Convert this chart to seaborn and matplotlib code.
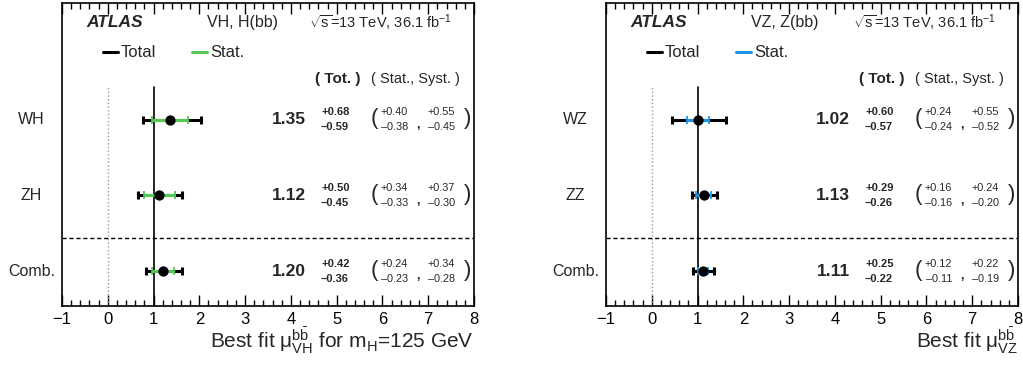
import numpy as np
import pandas as pd
import matplotlib
matplotlib.use("Agg")
import matplotlib.pyplot as plt
import seaborn as sns
from matplotlib.lines import Line2D
from matplotlib.ticker import MultipleLocator
import matplotlib.transforms as mtransforms

sns.set_style("ticks")
plt.rcParams['font.family'] = ['Liberation Sans', 'DejaVu Sans']
plt.rcParams['mathtext.fontset'] = 'custom'
plt.rcParams['mathtext.rm'] = 'Liberation Sans'
plt.rcParams['mathtext.it'] = 'Liberation Sans:italic'
plt.rcParams['mathtext.bf'] = 'Liberation Sans:bold'
plt.rcParams['mathtext.default'] = 'regular'

# VH, H(bb) results
vh_labels = ['WH', 'ZH', 'Comb.']
vh_mu = [1.35, 1.12, 1.20]
vh_tot_up = [0.68, 0.50, 0.42]
vh_tot_dn = [0.59, 0.45, 0.36]
vh_stat_up = [0.40, 0.34, 0.24]
vh_stat_dn = [0.38, 0.33, 0.23]
vh_syst_up = [0.55, 0.37, 0.34]
vh_syst_dn = [0.45, 0.30, 0.28]

# VZ, Z(bb) results
vz_labels = ['WZ', 'ZZ', 'Comb.']
vz_mu = [1.02, 1.13, 1.11]
vz_tot_up = [0.60, 0.29, 0.25]
vz_tot_dn = [0.57, 0.26, 0.22]
vz_stat_up = [0.24, 0.16, 0.12]
vz_stat_dn = [0.24, 0.16, 0.11]
vz_syst_up = [0.55, 0.24, 0.22]
vz_syst_dn = [0.52, 0.20, 0.19]

row_pos = [2.5, 1.5, 0.5]


def fmt(v, sign):
    return sign + f"{v:.2f}"


def draw_panel(ax, labels, mu, tot_up, tot_dn, stat_up, stat_dn, syst_up, syst_dn,
               color, process, xlabel):
    df = pd.DataFrame({'label': labels, 'mu': mu, 'y': row_pos,
                       'tot_up': tot_up, 'tot_dn': tot_dn,
                       'stat_up': stat_up, 'stat_dn': stat_dn})

    ax.set_xlim(-1, 8)
    ax.set_ylim(0.04, 4.04)

    # reference lines
    ax.axvline(1, ymin=0, ymax=(2.93 - 0.04) / 4, color='black', lw=1.2, zorder=1)
    ax.axvline(0, ymin=0, ymax=(2.93 - 0.04) / 4, color='0.6', lw=1.0, ls=':', zorder=1)
    ax.axhline(0.94, color='black', lw=1.0, ls=(0, (3, 2)), zorder=1)

    # total and stat error bars
    ax.errorbar(df['mu'], df['y'], xerr=[df['tot_dn'], df['tot_up']], fmt='none',
                ecolor='black', elinewidth=2.2, capsize=3.2, capthick=2.2, zorder=2)
    ax.errorbar(df['mu'], df['y'], xerr=[df['stat_dn'], df['stat_up']], fmt='none',
                ecolor=color, elinewidth=2.2, capsize=3.2, capthick=1.3, zorder=3)
    sns.scatterplot(data=df, x='mu', y='y', ax=ax, color='black', s=55,
                    edgecolor='black', linewidth=0, zorder=4, legend=False)

    trans = mtransforms.blended_transform_factory(ax.transAxes, ax.transData)
    for i, y in enumerate(row_pos):
        ax.text(-0.074, y, labels[i], transform=trans, ha='center', va='center', fontsize=11.5)
        ax.text(4.32, y, f"{mu[i]:.2f}", ha='right', va='center', fontsize=12.5, fontweight='bold')
        ax.text(4.66, y + 0.1, fmt(tot_up[i], '+'), ha='left', va='center', fontsize=8, fontweight='bold')
        ax.text(4.66, y - 0.1, fmt(tot_dn[i], '\u2013'), ha='left', va='center', fontsize=8, fontweight='bold')
        ax.text(5.75, y + 0.01, '(', ha='left', va='center', fontsize=16)
        ax.text(6.56, y + 0.1, fmt(stat_up[i], '+'), ha='right', va='center', fontsize=7.8)
        ax.text(6.56, y - 0.1, fmt(stat_dn[i], '\u2013'), ha='right', va='center', fontsize=7.8)
        ax.text(6.78, y - 0.07, ',', ha='center', va='center', fontsize=9, fontweight='bold')
        ax.text(7.59, y + 0.1, fmt(syst_up[i], '+'), ha='right', va='center', fontsize=7.8)
        ax.text(7.59, y - 0.1, fmt(syst_dn[i], '\u2013'), ha='right', va='center', fontsize=7.8)
        ax.text(7.78, y + 0.01, ')', ha='left', va='center', fontsize=16)

    ax.text(5.02, 3.04, '( Tot. )', ha='center', va='center', fontsize=11, fontweight='bold')
    ax.text(6.73, 3.04, '( Stat., Syst. )', ha='center', va='center', fontsize=10.5)

    ax.text(0.058, 0.934, 'ATLAS', transform=ax.transAxes, ha='left', va='center',
            fontsize=12.5, fontweight='bold', fontstyle='italic')
    ax.text(0.352, 0.934, process, transform=ax.transAxes, ha='left', va='center', fontsize=11.5)
    ax.text(0.600, 0.934, r'$\sqrt{s}$=13 TeV, 36.1 fb$^{-1}$', transform=ax.transAxes,
            ha='left', va='center', fontsize=10.5)

    handles = [Line2D([], [], color='black', lw=2.2), Line2D([], [], color=color, lw=2.2)]
    ax.legend(handles, ['Total', 'Stat.'], ncol=2, frameon=False, loc='center left',
              bbox_to_anchor=(0.099, 0.835), borderpad=0, borderaxespad=0,
              handlelength=0.9, handletextpad=0.15, columnspacing=2.2, fontsize=12)

    ax.text(1.0, -0.139, xlabel, transform=ax.transAxes, ha='right', va='baseline', fontsize=15)

    ax.set_yticks([])
    ax.set_xlabel('')
    ax.set_ylabel('')
    ax.xaxis.set_major_locator(MultipleLocator(1))
    ax.xaxis.set_minor_locator(MultipleLocator(0.2))
    ax.tick_params(axis='x', which='both', direction='in', top=True, bottom=True,
                   colors='black', labelsize=12)
    ax.tick_params(axis='x', which='major', length=8, width=1, pad=4)
    ax.tick_params(axis='x', which='minor', length=4, width=1)
    for sp in ax.spines.values():
        sp.set_visible(True)
        sp.set_color('black')
        sp.set_linewidth(1.2)


fig = plt.figure(figsize=(10.23, 3.66), dpi=100)
ax1 = fig.add_axes([62 / 1023, 60 / 366, 412 / 1023, 303 / 366])
ax2 = fig.add_axes([606 / 1023, 60 / 366, 412 / 1023, 303 / 366])

draw_panel(ax1, vh_labels, vh_mu, vh_tot_up, vh_tot_dn, vh_stat_up, vh_stat_dn,
           vh_syst_up, vh_syst_dn, '#55c857', 'VH, H(bb)',
           r'Best fit $\mu^{b\bar{b}}_{VH}$ for m$_{H}$=125 GeV')
draw_panel(ax2, vz_labels, vz_mu, vz_tot_up, vz_tot_dn, vz_stat_up, vz_stat_dn,
           vz_syst_up, vz_syst_dn, '#1e96e8', 'VZ, Z(bb)',
           r'Best fit $\mu^{b\bar{b}}_{VZ}$')

fig.savefig('out.png', dpi=100)
